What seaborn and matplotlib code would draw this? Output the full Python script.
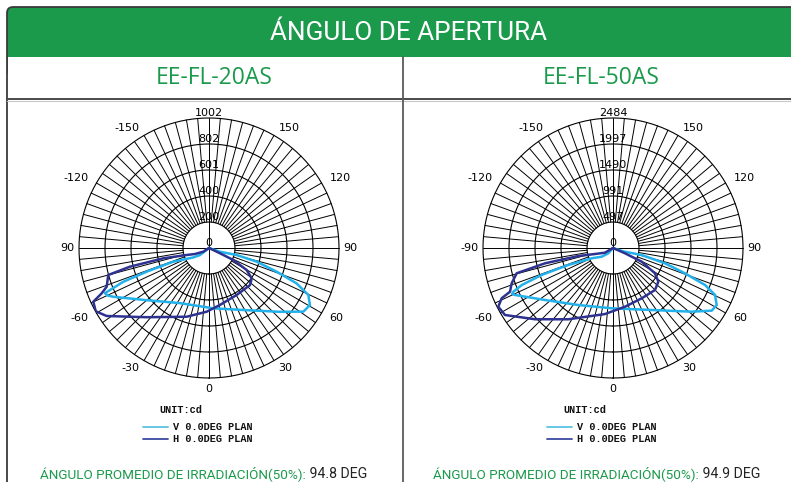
import numpy as np
import matplotlib
matplotlib.use("Agg")
import matplotlib.pyplot as plt
import seaborn as sns
from matplotlib.patches import FancyBboxPatch, Rectangle

# ---- data (angle in deg, intensity in cd) ----
models = ["EE-FL-20AS", "EE-FL-50AS"]
rmax_vals = [1002, 2484]
radial_labels_20 = ["0", "200", "400", "601", "802", "1002"]
radial_labels_50 = ["0", "497", "991", "1490", "1997", "2484"]

angle_ticks = [0, 30, 60, 90, 120, 150, 210, 240, 270, 300, 330]
angle_labels_20 = ["0", "30", "60", "90", "120", "150", "-150", "-120", "90", "-60", "-30"]
angle_labels_50 = ["0", "30", "60", "90", "120", "150", "-150", "-120", "-90", "-60", "-30"]

# EE-FL-20AS, V 0.0DEG PLAN
v20_deg = [-90, -52, -59, -69, -69.2, -68.5, -67, -66.5, -65, -63, -50, -28, 4, 31, 48, 56, 60.5, 64.7, 68, 70.7, 74, 75.8, 71, 0]
v20_cd = [0, 88, 141, 295, 514, 710, 829, 874, 865, 828, 626, 481, 466, 559, 735, 877, 894, 847, 728, 553, 382, 220, 89, 0]
# EE-FL-20AS, H 0.0DEG PLAN
h20_deg = [-90, -57, -66.8, -72.6, -77.3, -76.7, -75, -69.3, -67.1, -65.1, -60.8, -56.4, -42, -18, -2, 10.9, 30.5, 47.9, 54.6, 59.7, 63.7, 64.3, 0]
h20_cd = [0, 52, 117, 180, 361, 626, 804, 843, 898, 983, 1000, 947, 718, 557, 491, 447, 420, 426, 404, 336, 209, 94, 0]

# EE-FL-50AS, V 0.0DEG PLAN
v50_deg = [-90, -41.6, -52.4, -64.2, -69.2, -69.3, -67.9, -66.3, -65.5, -64.4, -52.6, -31.3, -1.2, 32, 51, 57.6, 61.2, 65.3, 68.1, 70.6, 73.6, 76.3, 72, 0]
v50_cd = [0, 135, 272, 452, 914, 1456, 1882, 2080, 2120, 2077, 1636, 1275, 1152, 1397, 1934, 2234, 2261, 2146, 1895, 1458, 1036, 564, 220, 0]
# EE-FL-50AS, H 0.0DEG PLAN
h50_deg = [-90, -59.6, -71.6, -77, -77.3, -75.3, -70.8, -67, -65.7, -62.9, -58.2, -47.6, -32.1, -6.9, 11.6, 29.7, 45, 53.4, 58.9, 64.5, 66.2, 0]
h50_cd = [0, 177, 363, 680, 1332, 1903, 2050, 2138, 2334, 2462, 2429, 2019, 1608, 1271, 1145, 1107, 1135, 1079, 937, 607, 251, 0]

avg_angles = ["94.8", "94.9"]

GREEN = "#1b9a4b"
LIGHT = "#22b1ea"
DARK = "#2d3290"

sns.set_theme(style="white")
plt.rcParams['font.family'] = ['DejaVu Sans']

W, H = 791, 482
fig = plt.figure(figsize=(W / 100, H / 100), dpi=100)
bg = fig.add_axes([0, 0, 1, 1])
bg.set_xlim(0, W)
bg.set_ylim(H, 0)
bg.axis('off')

# header band + frame
bg.add_patch(FancyBboxPatch((7, 7), 820, 70, boxstyle="round,pad=0,rounding_size=6",
                            facecolor=GREEN, edgecolor='none'))
bg.add_patch(Rectangle((7.5, 57), 820, 25, facecolor='white', edgecolor='none'))
bg.add_patch(FancyBboxPatch((7, 7), 820, 500, boxstyle="round,pad=0,rounding_size=6",
                            facecolor='none', edgecolor='#3a3a3a', lw=1.3))
bg.plot([7, W], [99, 99], color='#4a4a4a', lw=1.4)
bg.plot([7, W], [100.7, 100.7], color='#c8c8c8', lw=0.8)
bg.plot([403, 403], [57, H], color='#5a5a5a', lw=1.3)

narrow = ['Roboto', 'DejaVu Sans']
bg.text(408, 33, "ÁNGULO DE APERTURA", color='white', fontsize=18.8, ha='center', va='center',
        family=narrow)

panel_cx = [209, 613]
title_x = [214, 601]
bottom_x = [40, 433]
label_sets = [angle_labels_20, angle_labels_50]
radial_sets = [radial_labels_20, radial_labels_50]
curves = [((v20_deg, v20_cd), (h20_deg, h20_cd)), ((v50_deg, v50_cd), (h50_deg, h50_cd))]

R = 130
cy = 248
for i in range(2):
    cx = panel_cx[i]
    rmax = rmax_vals[i]
    bg.text(title_x[i], 78, models[i], color=GREEN, fontsize=16.5, ha='center', va='center',
            family=['Open Sans', 'DejaVu Sans'])

    ax = fig.add_axes([(cx - R) / W, (H - cy - R) / H, 2 * R / W, 2 * R / H], projection='polar')
    ax.set_theta_zero_location('S')
    ax.set_theta_direction(1)
    ax.set_facecolor('none')

    # grid: spokes every 5 deg from the first ring, axes lines through center, rings
    for d in range(0, 360, 5):
        t = np.deg2rad(d)
        r0 = 0 if d % 90 == 0 else rmax / 5
        ax.plot([t, t], [r0, rmax], color='black', lw=0.7, clip_on=False, zorder=1)
    ring = np.linspace(0, 2 * np.pi, 721)
    for k in range(1, 6):
        ax.plot(ring, np.full_like(ring, rmax * k / 5), color='black', lw=0.8, clip_on=False, zorder=1)

    (vd, vc), (hd, hc) = curves[i]
    sns.lineplot(x=np.deg2rad(vd), y=vc, ax=ax, sort=False, estimator=None, color=LIGHT, lw=1.8, zorder=3)
    sns.lineplot(x=np.deg2rad(hd), y=hc, ax=ax, sort=False, estimator=None, color=DARK, lw=1.8, zorder=4)

    ax.set_ylim(0, rmax)
    ax.set_xticks([])
    ax.set_yticks([])
    ax.grid(False)
    ax.set_xlabel('')
    ax.set_ylabel('')
    ax.spines['polar'].set_visible(False)

    # angle labels
    for d, lab in zip(angle_ticks, label_sets[i]):
        t = np.deg2rad(d)
        s = np.sin(t)
        if d == 0:
            ax.text(t, rmax * 1.05, lab, ha='center', va='top', fontsize=8, color='black')
            continue
        ha = 'left' if s > 0.01 else 'right'
        rf = 1.035 if d in (90, 270) else 1.07
        ax.text(t, rmax * rf, lab, ha=ha, va='center', fontsize=8, color='black')

    # radial labels along the top line
    for k, lab in enumerate(radial_sets[i]):
        ax.text(np.pi, rmax * k / 5, lab, ha='center', va='bottom', fontsize=8, color='black', zorder=5)

    # legend block
    mono = ['Liberation Mono', 'DejaVu Sans Mono']
    bg.text(cx - 50, 410, "UNIT:cd", family=mono, weight='bold', fontsize=7.4, va='center', color='#111')
    bg.plot([cx - 66, cx - 41], [427, 427], color='#5cc3e2', lw=1.3)
    bg.text(cx - 36, 427, "V 0.0DEG PLAN", family=mono, weight='bold', fontsize=7.4, va='center', color='#111')
    bg.plot([cx - 66, cx - 41], [439, 439], color='#3b4aa0', lw=1.3)
    bg.text(cx - 36, 439, "H 0.0DEG PLAN", family=mono, weight='bold', fontsize=7.4, va='center', color='#111')

    t1 = bg.text(bottom_x[i], 478, "ÁNGULO PROMEDIO DE IRRADIACIÓN(50%):", color=GREEN, fontsize=9.7,
                 ha='left', va='baseline', family=narrow)
    bg.annotate(" " + avg_angles[i] + " DEG", xy=(1, 478), xycoords=(t1, 'data'), ha='left', va='baseline',
                color='#222', fontsize=10.2, family=narrow)

fig.savefig("out.png", dpi=100)
